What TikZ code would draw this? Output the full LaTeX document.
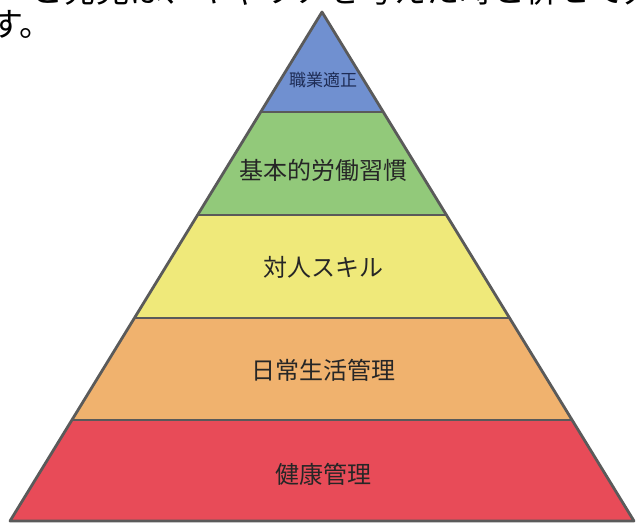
\documentclass[tikz,border=0pt]{standalone}
\usepackage{fontspec}
\setmainfont{Noto Sans CJK JP}
\newfontfamily\jpfont{Noto Sans CJK JP}
\definecolor{bandblue}{HTML}{7090D0}
\definecolor{bandgreen}{HTML}{92C97A}
\definecolor{bandyellow}{HTML}{EFE97A}
\definecolor{bandorange}{HTML}{F0B26E}
\definecolor{bandred}{HTML}{E84B58}
\definecolor{edgegray}{HTML}{5A5A5A}
\definecolor{labeltext}{HTML}{262626}
\definecolor{toptext}{HTML}{1E2C55}
\begin{document}
\begin{tikzpicture}[x=1pt,y=-1pt,
  band/.style={draw=edgegray,line width=2.8pt,line join=round},
  lbl/.style={font=\jpfont\fontsize{24}{28}\selectfont,text=labeltext,inner sep=0pt},
  smalllbl/.style={font=\jpfont\fontsize{17}{20}\selectfont,text=toptext,inner sep=0pt},
  headtext/.style={font=\jpfont\fontsize{33}{38}\selectfont,text=black,inner sep=0pt,anchor=west}]
\useasboundingbox (0,0) rectangle (636,522);
\begin{scope}
\clip (0,0) rectangle (636,522);
% text at the top (partly cut off)
\node[headtext] (line1) at (30,-10) {と発見は、キャリアを考えた時と併せて大切で};
\node[headtext] (line2) at (-10,24) {す。};
% bands
\fill[bandred]    (71.9,420) -- (572.1,420) -- (634,521) -- (10,521) -- cycle;
\fill[bandorange] (134.4,318) -- (509.6,318) -- (572.1,420) -- (71.9,420) -- cycle;
\fill[bandyellow] (197.6,215) -- (446.4,215) -- (509.6,318) -- (134.4,318) -- cycle;
\fill[bandgreen]  (260.7,112) -- (383.3,112) -- (446.4,215) -- (197.6,215) -- cycle;
\fill[bandblue]   (322,12) -- (383.3,112) -- (260.7,112) -- cycle;
\draw[band] (322,12) -- (634,521) -- (10,521) -- cycle;
\draw[band] (260.7,112) -- (383.3,112);
\draw[band] (197.6,215) -- (446.4,215);
\draw[band] (134.4,318) -- (509.6,318);
\draw[band] (71.9,420) -- (572.1,420);
\end{scope}
% labels
\node[smalllbl] (l1) at (323,80) {職業適正};
\node[lbl] (l2) at (323,170) {基本的労働習慣};
\node[lbl] (l3) at (323,267) {対人スキル};
\node[lbl] (l4) at (323,370) {日常生活管理};
\node[lbl] (l5) at (323,474) {健康管理};
\end{tikzpicture}
\end{document}
